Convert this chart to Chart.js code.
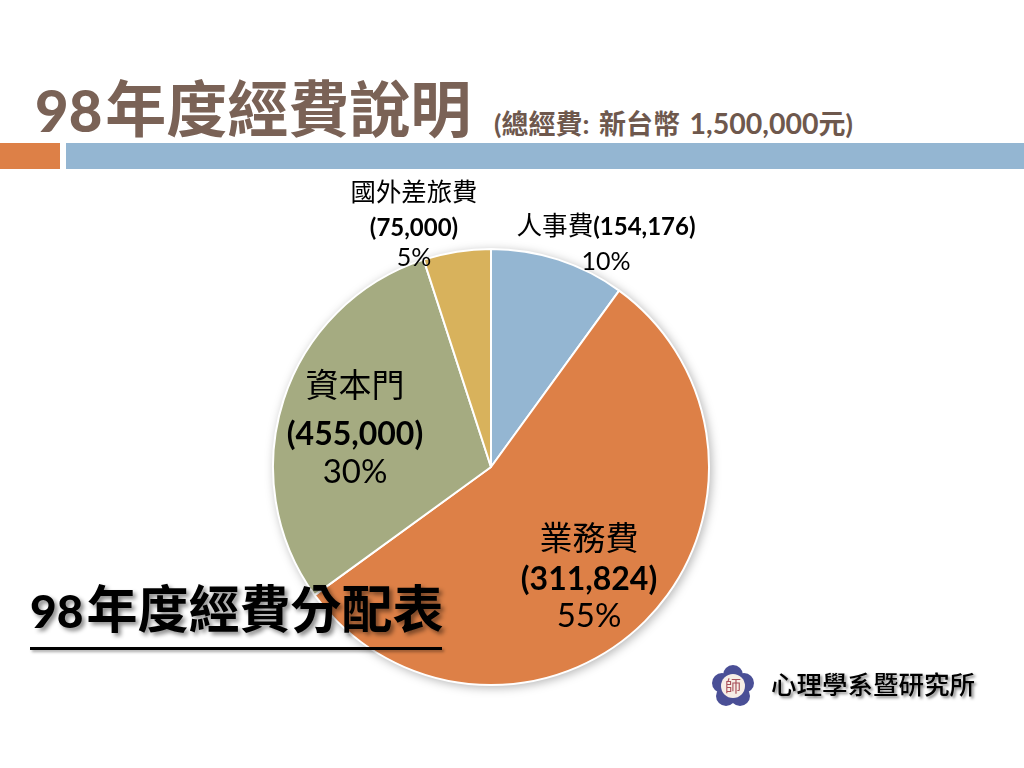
<!DOCTYPE html>
<html lang="zh-Hant">
<head>
    <meta charset="UTF-8">
    <title>98年度經費說明</title>
    <script src="https://cdn.jsdelivr.net/npm/chart.js"></script>
    <style>
        html, body { margin: 0; padding: 0; background: #fff; }
        body { width: 1024px; height: 768px; position: relative; overflow: hidden; font-family: 'Lato', 'Noto Sans CJK TC', sans-serif; color: #000; }
        .abs { position: absolute; white-space: nowrap; line-height: 1; }
        #title { left: 35px; top: 78px; font-size: 61px; font-weight: 700; color: #7a6256; }
        #title .num { font-size: 58px; font-weight: 900; margin-right: 3px; }
        #title small { position: absolute; left: 459px; top: 31px; font-size: 27px; word-spacing: 3px; color: #6e584d; }
        #title small span { font-size: 28.5px; }
        #barOrange { left: 0; top: 143px; width: 60px; height: 26px; background: #dd8047; }
        #barBlue { left: 66px; top: 143px; width: 958px; height: 26px; background: #94b6d2; }
        #pieWrap { left: 271px; top: 247px; width: 440px; height: 440px; filter: drop-shadow(2px 2px 5px rgba(0,0,0,0.28)); }
        .lbl { text-align: center; transform: translateX(-50%); }
        .lbl div { white-space: nowrap; }
        .lbl b { font-weight: 700; }
        #sub { left: 30px; top: 583px; font-size: 51px; font-weight: 700; text-shadow: 3px 3px 4px rgba(0,0,0,0.45); }
        #sub .num { font-size: 46px; font-weight: 900; margin-right: 3px; }
        #rule { left: 30px; top: 647px; width: 412px; height: 3px; background: #000; box-shadow: 2px 2px 3px rgba(0,0,0,0.35); }
        #dept { left: 771px; top: 672px; font-size: 25.5px; font-weight: 500; text-shadow: 2px 2px 3px rgba(0,0,0,0.5); }
        #logo { left: 711px; top: 664px; }
    </style>
</head>
<body>
    <div class="abs" id="title"><span class="num">98</span>年度經費說明<small>(總經費: 新台幣 <span>1,500,000</span>元)</small></div>
    <div class="abs" id="barOrange"></div>
    <div class="abs" id="barBlue"></div>

    <div class="abs" id="pieWrap"><canvas id="pie" width="440" height="440"></canvas></div>

    <div class="abs lbl" style="left:414px;top:173px;font-size:25.4px;line-height:36px"><div>國外差旅費</div><div style="font-size:24px"><b>(75,000)</b></div><div style="font-size:25px;line-height:22px" id="p3"></div></div>
    <div class="abs lbl" style="left:606px;top:207px;font-size:25.6px;line-height:36px"><div>人事費<b style="font-size:24px">(154,176)</b></div><div style="font-size:25px;line-height:32px" id="p0"></div></div>
    <div class="abs lbl" style="left:355px;top:360px;font-size:33px;line-height:48px"><div>資本門</div><div style="font-size:32px;line-height:50px"><b>(455,000)</b></div><div style="font-size:33px;line-height:24px" id="p2"></div></div>
    <div class="abs lbl" style="left:589px;top:515px;font-size:33px;line-height:44px"><div>業務費</div><div style="font-size:32px;line-height:38px"><b>(311,824)</b></div><div style="font-size:33px;line-height:34px" id="p1"></div></div>

    <div class="abs" id="sub"><span class="num">98</span>年度經費分配表</div>
    <div class="abs" id="rule"></div>

    <svg class="abs" id="logo" width="44" height="44" viewBox="0 0 44 44">
        <g fill="#4a4f96">
            <circle cx="22" cy="11" r="10"/><circle cx="33" cy="19" r="10"/><circle cx="29" cy="32" r="10"/><circle cx="15" cy="32" r="10"/><circle cx="11" cy="19" r="10"/>
        </g>
        <circle cx="22" cy="22" r="12" fill="#f6ede6"/>
        <text x="22" y="28" text-anchor="middle" font-size="16" fill="#a8505a" font-family="Noto Sans CJK TC">師</text>
    </svg>
    <div class="abs" id="dept">心理學系暨研究所</div>

    <script>
        const categories = ['人事費', '業務費', '資本門', '國外差旅費'];
        const amounts = [154176, 311824, 455000, 75000];
        const shares = [10, 55, 30, 5];
        const sliceColors = ['#94b6d2', '#dd8047', '#a5ab81', '#d8b25c'];

        shares.forEach((s, i) => {
            document.getElementById('p' + i).textContent = s + '%';
        });

        new Chart(document.getElementById('pie'), {
            type: 'pie',
            data: {
                labels: categories,
                datasets: [{
                    data: shares,
                    backgroundColor: sliceColors,
                    borderColor: '#ffffff',
                    borderWidth: 2
                }]
            },
            options: {
                responsive: false,
                animation: false,
                layout: { padding: 1 },
                plugins: {
                    legend: { display: false },
                    tooltip: { enabled: false }
                }
            }
        });
    </script>
</body>
</html>
